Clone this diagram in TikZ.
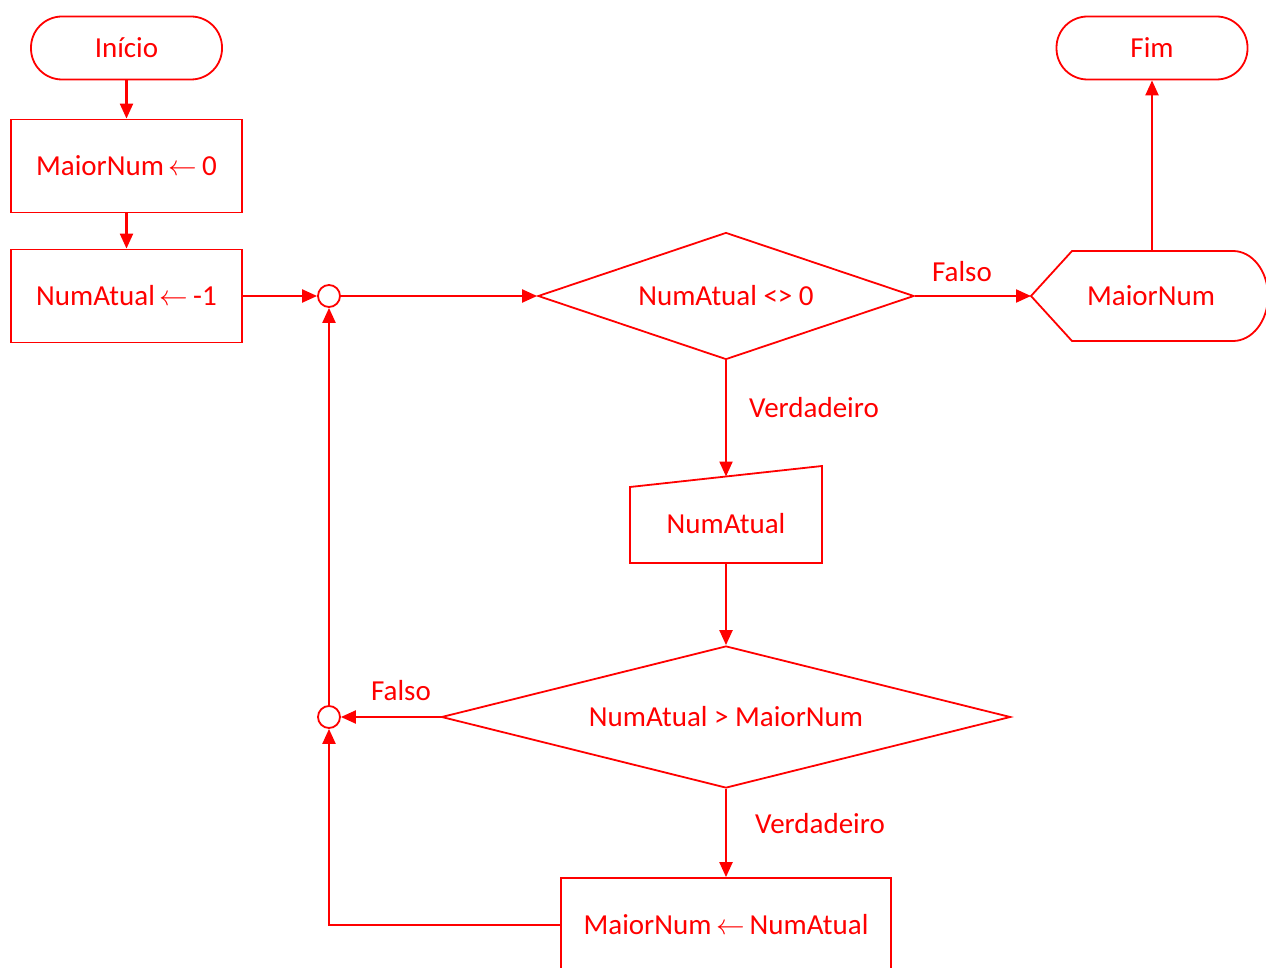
\documentclass[tikz,border=0pt]{standalone}
\usepackage{fontspec}
\setmainfont{Carlito}
\usetikzlibrary{shapes.geometric,arrows.meta}
\definecolor{fc}{RGB}{255,0,0}
\newcommand{\larr}{\,\scalebox{1.15}{$\leftarrow$}\,}
\tikzset{
  shapeline/.style={draw=fc, line width=1.8pt},
  txt/.style={text=fc, font=\fontsize{29}{35}\selectfont, inner sep=0pt},
  term/.style={shapeline, txt, rounded corners=31pt, minimum width=191pt, minimum height=63pt},
  proc/.style={shapeline, txt, minimum width=231pt, minimum height=93pt},
  decis/.style={shapeline, txt, diamond},
  junc/.style={shapeline, circle, minimum size=22pt, inner sep=0pt},
  flow/.style={draw=fc, line width=2.2pt, -{Triangle[length=15pt,width=13pt]}},
  lbl/.style={txt}
}
\begin{document}
\begin{tikzpicture}[x=1pt,y=-1pt]
\useasboundingbox (0,0) rectangle (1266,968);
\clip (0,0) rectangle (1266,968);
\fill[white] (0,0) rectangle (1266,968);

% left column
\node[term] (ini) at (126.5,48) {Início};
\node[proc] (s1) at (126.5,166) {MaiorNum\larr 0};
\node[proc] (s2) at (126.5,296) {NumAtual\larr -1};

% junctions
\node[junc] (j1) at (329,296) {};
\node[junc] (j2) at (329,717) {};

% loop test
\node[decis, aspect=2.96, minimum width=376pt, minimum height=127pt] (d1) at (726,296) {NumAtual <> 0};

% output (display) shape
\node[txt] (out) at (1151,296) {MaiorNum};
\coordinate (outL) at (1031,296);
\coordinate (outT) at (1152,251);
\draw[shapeline, line join=miter] (outL) -- (1072,251) -- (1233,251)
  arc[start angle=-90, end angle=90, x radius=35, y radius=45]
  -- (1072,341) -- cycle;

\node[term] (fim) at (1152,48) {Fim};

% manual input shape
\node[txt] (inp) at (726,524) {NumAtual};
\coordinate (inpT) at (726,476.5);
\coordinate (inpB) at (726,563);
\draw[shapeline] (630,487) -- (822,466) -- (822,563) -- (630,563) -- cycle;

% comparison
\node[decis, aspect=4.0, minimum width=569pt, minimum height=142pt] (d2) at (726,717) {NumAtual > MaiorNum};

% assignment
\node[shapeline, txt, minimum width=330pt, minimum height=94pt] (s3) at (726,925) {MaiorNum\larr NumAtual};

% connectors
\draw[flow] (ini.south) -- (s1.north);
\draw[flow] (s1.south) -- (s2.north);
\draw[flow] (s2.east) -- (j1.west);
\draw[flow] (j1.east) -- (d1.west);
\draw[flow] (d1.east) -- (outL);
\draw[flow] (outT) -- (fim.south);
\draw[flow] (d1.south) -- (inpT);
\draw[flow] (inpB) -- (d2.north);
\draw[flow] (d2.west) -- (j2.east);
\draw[flow] (d2.south) -- (s3.north);
\draw[flow] (s3.west) -| (j2.south);
\draw[flow] (j2.north) -- (j1.south);

% branch labels
\node[lbl] (f1) at (962,272) {Falso};
\node[lbl] (v1) at (814,408) {Verdadeiro};
\node[lbl] (f2) at (401,691) {Falso};
\node[lbl] (v2) at (820,824) {Verdadeiro};
\end{tikzpicture}
\end{document}
